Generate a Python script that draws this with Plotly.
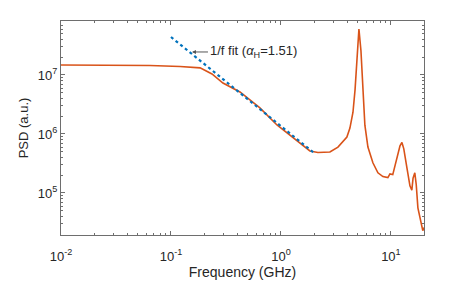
import plotly.graph_objects as go

# Measured PSD (orange curve)
freq_ghz = [0.01, 0.0226, 0.0644, 0.121, 0.184, 0.236, 0.297, 0.424, 0.644, 0.92,
            1.285, 1.585, 1.835, 2.17, 2.79, 3.3, 3.66, 3.98, 4.24, 4.52, 4.72,
            4.91, 5.12, 5.34, 5.56, 5.80, 6.18, 6.86, 7.62, 8.46, 9.39, 9.8,
            10.4, 11.3, 12.1, 12.6, 13.1, 14.0, 14.9, 15.5, 15.9, 16.5, 17.0,
            17.6, 18.3, 19.1, 19.5, 20.0]
psd_au = [1.48e7, 1.48e7, 1.45e7, 1.39e7, 1.32e7, 1.04e7, 7.3e6, 5.15e6, 2.76e6, 1.42e6,
          8.55e5, 6.27e5, 5.15e5, 4.85e5, 4.95e5, 6.0e5, 7.6e5, 8.9e5, 1.26e6, 2.34e6, 5.6e6,
          2.2e7, 6.0e7, 2.6e7, 4.6e6, 1.41e6, 6.0e5, 3.25e5, 2.2e5, 1.9e5, 1.82e5, 2.1e5,
          2.05e5, 3.6e5, 6.3e5, 7.2e5, 5.6e5, 2.65e5, 1.32e5, 1.12e5, 1.78e5, 2.2e5, 1.38e5,
          5.6e4, 3.9e4, 2.9e4, 2.3e4, 2.6e4]

# 1/f fit line endpoints (alpha_H = 1.51)
fit_freq = [0.1, 2.0]
fit_psd = [4.4e7, 4.77e5]

x_tickvals = [0.01, 0.1, 1, 10]
x_ticktext = ["10<sup>-2</sup>", "10<sup>-1</sup>", "10<sup>0</sup>", "10<sup>1</sup>"]
y_tickvals = [1e5, 1e6, 1e7]
y_ticktext = ["10<sup>5</sup>", "10<sup>6</sup>", "10<sup>7</sup>"]

font_family = "Liberation Sans, Arial, sans-serif"

fig = go.Figure()
fig.add_trace(go.Scatter(x=freq_ghz, y=psd_au, mode="lines",
                         line=dict(color="#D95319", width=1.6), showlegend=False))
fig.add_trace(go.Scatter(x=fit_freq, y=fit_psd, mode="lines",
                         line=dict(color="#0072BD", width=2.2, dash="dot"), showlegend=False))

fig.add_annotation(x=-0.809, y=7.39, xref="x", yref="y",
                   text="1/f fit (<i>α</i><sub>H</sub>=1.51)",
                   showarrow=True, arrowhead=2, arrowsize=0.8, arrowwidth=1,
                   arrowcolor="#555555", ax=16, ay=0, xanchor="left",
                   font=dict(family=font_family, size=13, color="#262626"))

axis_common = dict(
    type="log", showgrid=False, zeroline=False, automargin=False,
    showline=True, linecolor="#6e6e6e", linewidth=1, mirror="allticks",
    ticks="inside", ticklen=4, tickcolor="#6e6e6e",
    minor=dict(ticks="inside", ticklen=2, tickcolor="#6e6e6e", dtick="D1"),
    tickfont=dict(family=font_family, size=13, color="#262626"),
)

fig.update_xaxes(**axis_common, range=[-2, 1.301], ticklabelstandoff=9,
                 tickmode="array", tickvals=x_tickvals, ticktext=x_ticktext,
                 title=dict(text="Frequency (GHz)", font=dict(family=font_family, size=14, color="#262626"),
                            standoff=4))
fig.update_yaxes(**axis_common, range=[4.288, 7.915],
                 tickmode="array", tickvals=y_tickvals, ticktext=y_ticktext,
                 title=dict(text="PSD (a.u.)", font=dict(family=font_family, size=13, color="#262626"),
                            standoff=6))

fig.update_layout(width=469, height=281, plot_bgcolor="white", paper_bgcolor="white",
                  margin=dict(l=61, r=45, t=21, b=46))

fig.write_html("out.html", config={"displayModeBar": False},
               post_script="document.body.style.margin='0';")
